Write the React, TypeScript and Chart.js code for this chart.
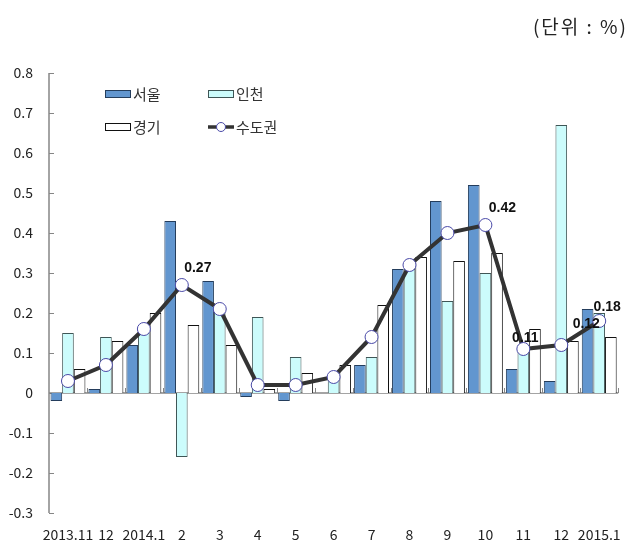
import React, { useEffect, useRef } from "react";
import { Chart, registerables } from "chart.js";

Chart.register(...registerables);

const categories = ["2013.11", "12", "2014.1", "2", "3", "4", "5", "6", "7", "8", "9", "10", "11", "12", "2015.1"];
const seoul = [-0.02, 0.01, 0.12, 0.43, 0.28, -0.01, -0.02, 0.0, 0.07, 0.31, 0.48, 0.52, 0.06, 0.03, 0.21];
const incheon = [0.15, 0.14, 0.15, -0.16, 0.21, 0.19, 0.09, 0.04, 0.09, 0.31, 0.23, 0.3, 0.12, 0.67, 0.2];
const gyeonggi = [0.06, 0.13, 0.2, 0.17, 0.12, 0.01, 0.05, 0.07, 0.22, 0.34, 0.33, 0.35, 0.16, 0.13, 0.14];
const capital = [0.03, 0.07, 0.16, 0.27, 0.21, 0.02, 0.02, 0.04, 0.14, 0.32, 0.4, 0.42, 0.11, 0.12, 0.18];
const labeledPoints = [3, 11, 12, 13, 14];
const seriesNames = ["서울", "인천", "경기", "수도권"];
const unitText = "(단위 : %)";

const labelOffsets: Record<number, [number, number]> = {
  3: [16, -17],
  11: [17, -17],
  12: [2, -11],
  13: [25, -21],
  14: [8, -14],
};

const AXIS = "#868686";

const decorPlugin = {
  id: "decor",
  beforeDatasetsDraw(chart: any) {
    const { ctx, chartArea, scales } = chart;
    const y = scales.y;
    const y0 = y.getPixelForValue(0);
    ctx.save();
    ctx.strokeStyle = AXIS;
    ctx.lineWidth = 1.5;
    ctx.beginPath();
    ctx.moveTo(chartArea.left, chartArea.top);
    ctx.lineTo(chartArea.left, chartArea.bottom);
    ctx.stroke();
    ctx.lineWidth = 1;
    y.ticks.forEach((t: any) => {
      const py = Math.round(y.getPixelForValue(t.value)) + 0.5;
      ctx.beginPath();
      ctx.moveTo(chartArea.left, py);
      ctx.lineTo(chartArea.left + 5, py);
      ctx.stroke();
    });
    ctx.lineWidth = 1.5;
    ctx.beginPath();
    ctx.moveTo(chartArea.left, y0);
    ctx.lineTo(chartArea.right, y0);
    ctx.stroke();
    ctx.lineWidth = 1;
    const n = categories.length;
    const w = (chartArea.right - chartArea.left) / n;
    for (let i = 1; i <= n; i++) {
      const px = Math.round(chartArea.left + i * w) + 0.5;
      ctx.beginPath();
      ctx.moveTo(px, y0);
      ctx.lineTo(px, y0 - 5);
      ctx.stroke();
    }
    ctx.restore();
  },
  afterDraw(chart: any) {
    const { ctx } = chart;
    ctx.save();
    // unit text
    ctx.fillStyle = "#222";
    ctx.font = "19px 'Noto Sans CJK KR', sans-serif";
    ctx.textAlign = "right";
    ctx.textBaseline = "middle";
    try {
      (ctx as any).letterSpacing = "2px";
    } catch (e) {}
    ctx.fillText(unitText, 628, 27);
    try {
      (ctx as any).letterSpacing = "0px";
    } catch (e) {}

    // data labels
    const meta = chart.getDatasetMeta(0);
    ctx.font = "bold 14px 'Liberation Sans', Arial, sans-serif";
    ctx.fillStyle = "#111";
    ctx.textAlign = "center";
    labeledPoints.forEach((i) => {
      const el = meta.data[i];
      const off = labelOffsets[i] || [0, -16];
      ctx.fillText(capital[i].toFixed(2), el.x + off[0], el.y + off[1]);
    });

    // legend
    ctx.font = "15px 'Noto Sans CJK KR', sans-serif";
    ctx.textAlign = "left";
    ctx.textBaseline = "middle";
    const items = [
      { x: 105, y: 94, ds: 1 },
      { x: 208, y: 94, ds: 2 },
      { x: 105, y: 127, ds: 3 },
      { x: 208, y: 127, ds: 0 },
    ];
    items.forEach((it) => {
      const d: any = chart.data.datasets[it.ds];
      if (d.type === "line") {
        ctx.strokeStyle = d.borderColor;
        ctx.lineWidth = 3.5;
        ctx.beginPath();
        ctx.moveTo(it.x, it.y);
        ctx.lineTo(it.x + 26, it.y);
        ctx.stroke();
        ctx.beginPath();
        ctx.arc(it.x + 13, it.y, 4.5, 0, Math.PI * 2);
        ctx.fillStyle = d.pointBackgroundColor;
        ctx.fill();
        ctx.lineWidth = 1;
        ctx.strokeStyle = d.pointBorderColor;
        ctx.stroke();
      } else {
        ctx.fillStyle = d.backgroundColor;
        ctx.fillRect(it.x, it.y - 3.5, 25, 7);
        ctx.strokeStyle = d.borderColor;
        ctx.lineWidth = 1;
        ctx.strokeRect(it.x + 0.5, it.y - 3.5, 25, 7);
      }
      ctx.fillStyle = "#333";
      ctx.fillText(d.label, it.x + 28, it.y);
    });
    ctx.restore();
  },
};

export default function App() {
  const ref = useRef<HTMLCanvasElement>(null);
  useEffect(() => {
    if (!ref.current) return;
    const chart = new Chart(ref.current, {
      type: "bar",
      data: {
        labels: categories,
        datasets: [
          {
            type: "line",
            label: seriesNames[3],
            data: capital,
            borderColor: "#333333",
            borderWidth: 4,
            pointRadius: 6.5,
            pointBackgroundColor: "#ffffff",
            pointBorderColor: "#4a4aa8",
            pointBorderWidth: 1,
            tension: 0,
            order: 0,
          } as any,
          {
            label: seriesNames[0],
            data: seoul,
            backgroundColor: "#6296cf",
            borderColor: "#243d5c",
            borderWidth: 1,
            order: 1,
          },
          {
            label: seriesNames[1],
            data: incheon,
            backgroundColor: "#ccfcfc",
            borderColor: "#3f5656",
            borderWidth: 1,
            order: 1,
          },
          {
            label: seriesNames[2],
            data: gyeonggi,
            backgroundColor: "#ffffff",
            borderColor: "#111111",
            borderWidth: 1,
            order: 1,
          },
        ],
      },
      options: {
        animation: false,
        responsive: false,
        maintainAspectRatio: false,
        datasets: { bar: { barPercentage: 1, categoryPercentage: 0.92 } } as any,
        layout: { padding: { top: 73, right: 12, left: 0, bottom: 0 } },
        plugins: { legend: { display: false }, tooltip: { enabled: false }, title: { display: false } },
        scales: {
          x: {
            grid: { display: false, drawTicks: false },
            border: { display: false },
            ticks: {
              autoSkip: false,
              maxRotation: 0,
              padding: 13,
              color: "#222",
              font: { family: "'Noto Sans CJK KR', sans-serif", size: 14 },
            },
            afterFit: (s: any) => {
              s.height = 31;
            },
          },
          y: {
            min: -0.3,
            max: 0.8,
            grid: { display: false, drawTicks: false },
            border: { display: false },
            ticks: {
              stepSize: 0.1,
              padding: 16,
              color: "#222",
              font: { family: "'Noto Sans CJK KR', sans-serif", size: 14 },
              callback: (v: any) => {
                const n = Math.round(Number(v) * 10) / 10;
                return n === 0 ? "0" : n.toFixed(1);
              },
            },
            afterFit: (s: any) => {
              s.width = 49;
            },
          },
        },
      },
      plugins: [decorPlugin],
    });
    return () => chart.destroy();
  }, []);
  return (
    <div style={{ position: "fixed", left: 0, top: 0, width: 634, height: 544, background: "#fff" }}>
      <canvas ref={ref} width={634} height={544} style={{ width: 634, height: 544 }} />
    </div>
  );
}
